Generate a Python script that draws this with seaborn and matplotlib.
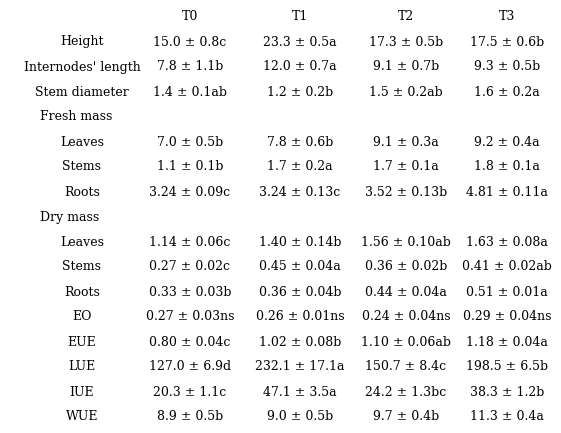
import matplotlib
matplotlib.use("Agg")
import matplotlib.pyplot as plt
import seaborn as sns

sns.set_theme(style="white")
plt.rcParams['font.family'] = ['DejaVu Serif']
plt.rcParams['text.color'] = 'black'

# Table content
columns = ["T0", "T1", "T2", "T3"]
row_labels = ["Height", "Internodes' length", "Stem diameter", "Fresh mass",
              "Leaves", "Stems", "Roots", "Dry mass", "Leaves", "Stems",
              "Roots", "EO", "EUE", "LUE", "IUE", "WUE"]
section_rows = ["Fresh mass", "Dry mass"]
t0 = ["15.0 ± 0.8c", "7.8 ± 1.1b", "1.4 ± 0.1ab", "", "7.0 ± 0.5b", "1.1 ± 0.1b",
      "3.24 ± 0.09c", "", "1.14 ± 0.06c", "0.27 ± 0.02c", "0.33 ± 0.03b",
      "0.27 ± 0.03ns", "0.80 ± 0.04c", "127.0 ± 6.9d", "20.3 ± 1.1c", "8.9 ± 0.5b"]
t1 = ["23.3 ± 0.5a", "12.0 ± 0.7a", "1.2 ± 0.2b", "", "7.8 ± 0.6b", "1.7 ± 0.2a",
      "3.24 ± 0.13c", "", "1.40 ± 0.14b", "0.45 ± 0.04a", "0.36 ± 0.04b",
      "0.26 ± 0.01ns", "1.02 ± 0.08b", "232.1 ± 17.1a", "47.1 ± 3.5a", "9.0 ± 0.5b"]
t2 = ["17.3 ± 0.5b", "9.1 ± 0.7b", "1.5 ± 0.2ab", "", "9.1 ± 0.3a", "1.7 ± 0.1a",
      "3.52 ± 0.13b", "", "1.56 ± 0.10ab", "0.36 ± 0.02b", "0.44 ± 0.04a",
      "0.24 ± 0.04ns", "1.10 ± 0.06ab", "150.7 ± 8.4c", "24.2 ± 1.3bc", "9.7 ± 0.4b"]
t3 = ["17.5 ± 0.6b", "9.3 ± 0.5b", "1.6 ± 0.2a", "", "9.2 ± 0.4a", "1.8 ± 0.1a",
      "4.81 ± 0.11a", "", "1.63 ± 0.08a", "0.41 ± 0.02ab", "0.51 ± 0.01a",
      "0.29 ± 0.04ns", "1.18 ± 0.04a", "198.5 ± 6.5b", "38.3 ± 1.2b", "11.3 ± 0.4a"]

fig = plt.figure(figsize=(5.61, 4.33), dpi=100)
ax = fig.add_axes([0, 0, 1, 1])
ax.set_xlim(0, 561)
ax.set_ylim(433, 0)
ax.axis("off")

col_x = [190, 300, 406, 507]
fs = 9
for x, c in zip(col_x, columns):
    ax.text(x, 17, c, ha="center", va="center", fontsize=fs, color="black")

for i, lab in enumerate(row_labels):
    y = 42 + 25 * i
    if lab in section_rows:
        ax.text(40, y, lab, ha="left", va="center", fontsize=fs, color="black")
    else:
        ax.text(82, y, lab, ha="center", va="center", fontsize=fs, color="black")
    for x, col in zip(col_x, [t0, t1, t2, t3]):
        if col[i]:
            ax.text(x, y, col[i], ha="center", va="center", fontsize=fs, color="black")

fig.savefig("out.png", dpi=100)
